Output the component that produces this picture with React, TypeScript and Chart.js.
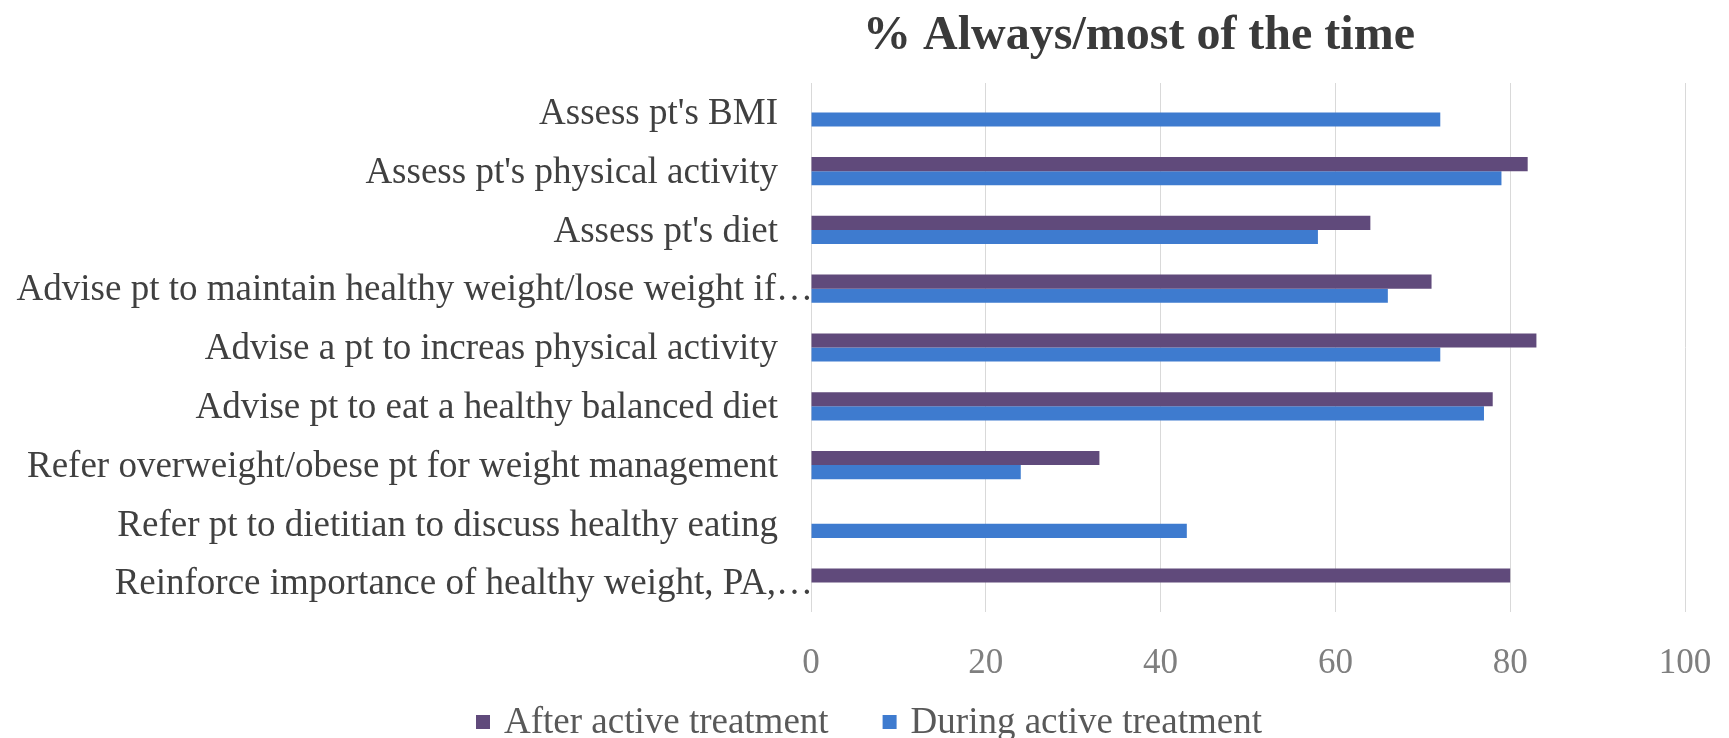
import React, { useEffect, useRef } from "react";
import { Chart, registerables } from "chart.js";

Chart.register(...registerables);

// Survey items (top to bottom)
const categories: string[] = [
  "Assess pt's BMI",
  "Assess pt's physical activity",
  "Assess pt's diet",
  "Advise pt to maintain healthy weight/lose weight if…",
  "Advise a pt to increas physical activity",
  "Advise pt to eat a healthy balanced diet",
  "Refer overweight/obese pt for weight management",
  "Refer pt to dietitian to discuss healthy eating",
  "Reinforce importance of healthy weight, PA,…",
];

// % answering always / most of the time
const afterTreatment: (number | null)[] = [null, 82, 64, 71, 83, 78, 33, null, 80];
const duringTreatment: (number | null)[] = [72, 79, 58, 66, 72, 77, 24, 43, null];

const seriesLabels = ["After active treatment", "During active treatment"];
const seriesColors = ["#604a7b", "#3e7bcf"];

const xMin = 0;
const xMax = 100;
const xStep = 20;

const chartTitle = "% Always/most of the time";

const SERIF = "'Liberation Serif', 'Times New Roman', serif";

// Title centred above the bars
const titleText = {
  id: "titleText",
  afterDraw(chart: Chart) {
    const { ctx } = chart;
    ctx.save();
    ctx.font = `bold 48px ${SERIF}`;
    ctx.fillStyle = "#3a3a3a";
    ctx.textAlign = "center";
    ctx.textBaseline = "middle";
    ctx.fillText(chartTitle, 1139, 37);
    ctx.restore();
  },
};

// Category names beside the bars; clipped names (ending in an ellipsis)
// run right up to the axis line
const categoryLabels = {
  id: "categoryLabels",
  afterDraw(chart: Chart) {
    const { ctx } = chart;
    const yScale: any = chart.scales.y;
    const left = chart.chartArea.left;
    ctx.save();
    ctx.font = `37px ${SERIF}`;
    ctx.fillStyle = "#404040";
    ctx.textAlign = "right";
    ctx.textBaseline = "middle";
    (chart.data.labels as string[]).forEach((label, i) => {
      const y = yScale.getPixelForTick(i) + 2;
      const x = label.endsWith("…") ? left + 2 : left - 33;
      ctx.fillText(label, x, y);
    });
    ctx.restore();
  },
};

// Legend drawn under the axis: square marker followed by the series name
const bottomLegend = {
  id: "bottomLegend",
  afterDraw(chart: Chart) {
    const { ctx } = chart;
    const y = 722;
    const box = 14;
    const gap = 14;
    const itemGap = 54;
    ctx.save();
    ctx.font = `37px ${SERIF}`;
    ctx.textBaseline = "middle";
    ctx.textAlign = "left";
    let x = 476;
    chart.data.datasets.forEach((ds: any) => {
      ctx.fillStyle = ds.backgroundColor;
      ctx.fillRect(x, y - box / 2, box, box);
      x += box + gap;
      ctx.fillStyle = "#595959";
      ctx.fillText(ds.label, x, y + 1);
      x += ctx.measureText(ds.label).width + itemGap;
    });
    ctx.restore();
  },
};

export default function App() {
  const canvasRef = useRef<HTMLCanvasElement | null>(null);

  useEffect(() => {
    if (!canvasRef.current) return;
    const chart = new Chart(canvasRef.current, {
      type: "bar",
      data: {
        labels: categories,
        datasets: [
          {
            label: seriesLabels[0],
            data: afterTreatment,
            backgroundColor: seriesColors[0],
            categoryPercentage: 0.48,
            barPercentage: 1,
          },
          {
            label: seriesLabels[1],
            data: duringTreatment,
            backgroundColor: seriesColors[1],
            categoryPercentage: 0.48,
            barPercentage: 1,
          },
        ],
      },
      options: {
        indexAxis: "y",
        animation: false,
        responsive: true,
        maintainAspectRatio: false,
        layout: { padding: { left: 0, right: 44, top: 83, bottom: 60 } },
        plugins: {
          legend: { display: false },
          tooltip: { enabled: false },
          title: { display: false },
        },
        scales: {
          x: {
            min: xMin,
            max: xMax,
            ticks: {
              stepSize: xStep,
              color: "#7f7f7f",
              padding: 31,
              font: { family: SERIF, size: 35 },
            },
            grid: { color: "#d9d9d9", drawTicks: false },
            border: { display: false },
            afterFit: (scale: any) => {
              scale.height = 66;
              scale.paddingLeft = 0;
              scale.paddingRight = 0;
            },
          },
          y: {
            ticks: { display: false, autoSkip: false },
            grid: { display: false, drawTicks: false },
            border: { display: false },
            afterFit: (scale: any) => {
              scale.width = 811;
            },
          },
        },
      },
      plugins: [titleText, categoryLabels, bottomLegend],
    });
    return () => chart.destroy();
  }, []);

  return (
    <div style={{ position: "fixed", left: 0, top: 0, width: 1729, height: 738, background: "#ffffff" }}>
      <canvas ref={canvasRef} />
    </div>
  );
}
